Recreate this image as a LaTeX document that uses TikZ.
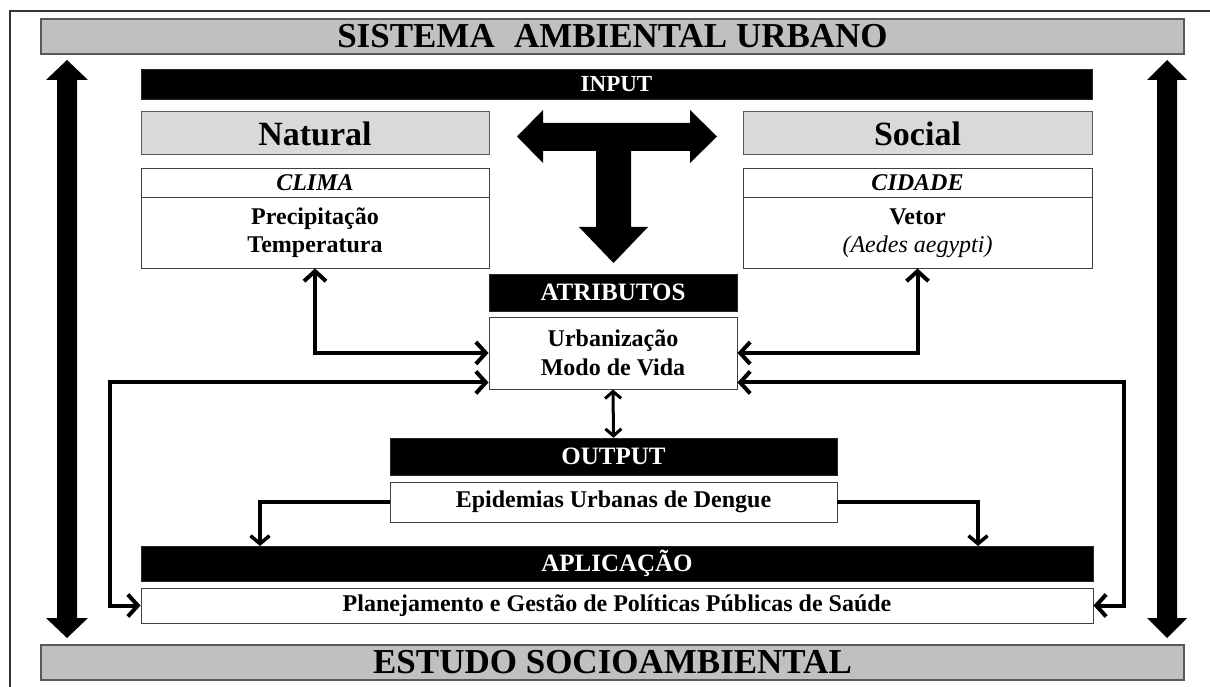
\documentclass[tikz,border=0pt]{standalone}
\usepackage{fontspec}
\setmainfont{Liberation Serif}
\usetikzlibrary{arrows.meta,calc}
\definecolor{barg}{HTML}{C0C0C0}
\definecolor{lightg}{HTML}{D9D9D9}
\definecolor{edge}{HTML}{595959}
\definecolor{frame}{HTML}{333333}
\tikzset{
  graybar/.style={draw=edge, line width=1.2pt, fill=barg, inner sep=0pt, font=\bfseries\fontsize{35}{38}\selectfont},
  blackbar/.style={fill=black, draw=black!85, text=white, inner sep=0pt, font=\bfseries\fontsize{25}{28}\selectfont},
  lightbar/.style={draw=edge, line width=1pt, fill=lightg, inner sep=0pt, font=\bfseries\fontsize{34}{36}\selectfont},
  wbox/.style={draw=black!75, line width=0.9pt, fill=white, inner sep=0pt, align=center, font=\bfseries\fontsize{24}{28.5}\selectfont},
  conn/.style={line width=4pt, {Straight Barb[length=10pt,width=22pt]}-{Straight Barb[length=10pt,width=22pt]}},
  connsmall/.style={line width=3pt, {Straight Barb[length=7pt,width=16pt]}-{Straight Barb[length=7pt,width=16pt]}},
  connone/.style={line width=3.5pt, -{Straight Barb[length=8pt,width=19pt]}},
  bigarrow/.style={fill=black}
}
\begin{document}
\begin{tikzpicture}[x=1pt,y=-1pt]
\useasboundingbox (0,0) rectangle (1210,687);
\fill[white] (0,0) rectangle (1210,687);
% outer frame
\draw[frame, line width=2pt] (10,700) -- (10,11) -- (1220,11);

% bars
\node[graybar, minimum width=1143, minimum height=35] (top) at (612.5,36.5) {SISTEMA\hspace{0.3em} AMBIENTAL URBANO};
\node[graybar, minimum width=1143, minimum height=35] (bottom) at (612.5,662.5) {ESTUDO SOCIOAMBIENTAL};
\node[blackbar, minimum width=951, minimum height=30, font=\bfseries\fontsize{23}{26}\selectfont] (input) at (616.5,84) {INPUT};
\node[lightbar, minimum width=348, minimum height=43] (natural) at (315,133.5) {Natural};
\node[lightbar, minimum width=349, minimum height=43] (social) at (917.5,133.5) {Social};

\node[wbox, minimum width=348, minimum height=29] (climah) at (315,182.5) {\textit{CLIMA}};
\node[wbox, minimum width=348, minimum height=71] (climab) at (315,232.5) {\raisebox{-3pt}{\begin{tabular}{@{}c@{}}Precipitação\\[-0.5pt]Temperatura\end{tabular}}};
\node[wbox, minimum width=349, minimum height=29] (cidh) at (917.5,182.5) {\textit{CIDADE}};
\node[wbox, minimum width=349, minimum height=71] (cidb) at (917.5,232.5) {\raisebox{-3pt}{\begin{tabular}{@{}c@{}}Vetor\\[-0.5pt]{\mdseries\itshape (Aedes aegypti)}\end{tabular}}};

\node[blackbar, minimum width=248, minimum height=37] (atrib) at (613,292.5) {ATRIBUTOS};
\node[wbox, minimum width=248, minimum height=72] (urb) at (613,353) {Urbanização\\Modo de Vida};

\node[blackbar, minimum width=447, minimum height=37] (output) at (613.5,456.5) {OUTPUT};
\node[wbox, minimum width=447, minimum height=40] (epi) at (613.5,502) {Epidemias Urbanas de Dengue};

\node[blackbar, minimum width=952, minimum height=35] (aplic) at (617,563.5) {APLICAÇÃO};
\node[wbox, minimum width=952, minimum height=35] (plan) at (617,605.5) {Planejamento e Gestão de Políticas Públicas de Saúde};

% big side arrows
\fill[bigarrow] (67,60) -- (88,80) -- (77,80) -- (77,618) -- (88,618) -- (67,638) -- (46,618) -- (57,618) -- (57,80) -- (46,80) -- cycle;
\fill[bigarrow] (1167,60) -- (1187,80) -- (1177,80) -- (1177,618) -- (1187,618) -- (1167,638) -- (1147,618) -- (1157,618) -- (1157,80) -- (1147,80) -- cycle;

% T arrow
\fill[bigarrow] (517,136.5) -- (543,110) -- (543,123) -- (690,123) -- (690,110) -- (717,136.5) -- (690,163) -- (690,151) -- (631,151) -- (631,227) -- (648,227) -- (613.5,263) -- (579,227) -- (596,227) -- (596,151) -- (543,151) -- (543,163) -- cycle;

% connectors
\coordinate (lloop) at (110,500);
\coordinate (rloop) at (1124,500);
\coordinate (aL) at (260,546);
\coordinate (aR) at (978,546);

\draw[conn] (climab.south) |- (urb.west);
\draw[conn] (cidb.south) |- (urb.east);
\draw[conn] ($(urb.south west)+(0,-7)$) -| (lloop) |- (plan.west);
\draw[conn] ($(urb.south east)+(0,-7)$) -| (rloop) |- (plan.east);
\draw[connsmall] (urb.south) -- (output.north);
\draw[connone] (epi.west) -| (aL);
\draw[connone] (epi.east) -| (aR);
\end{tikzpicture}
\end{document}
